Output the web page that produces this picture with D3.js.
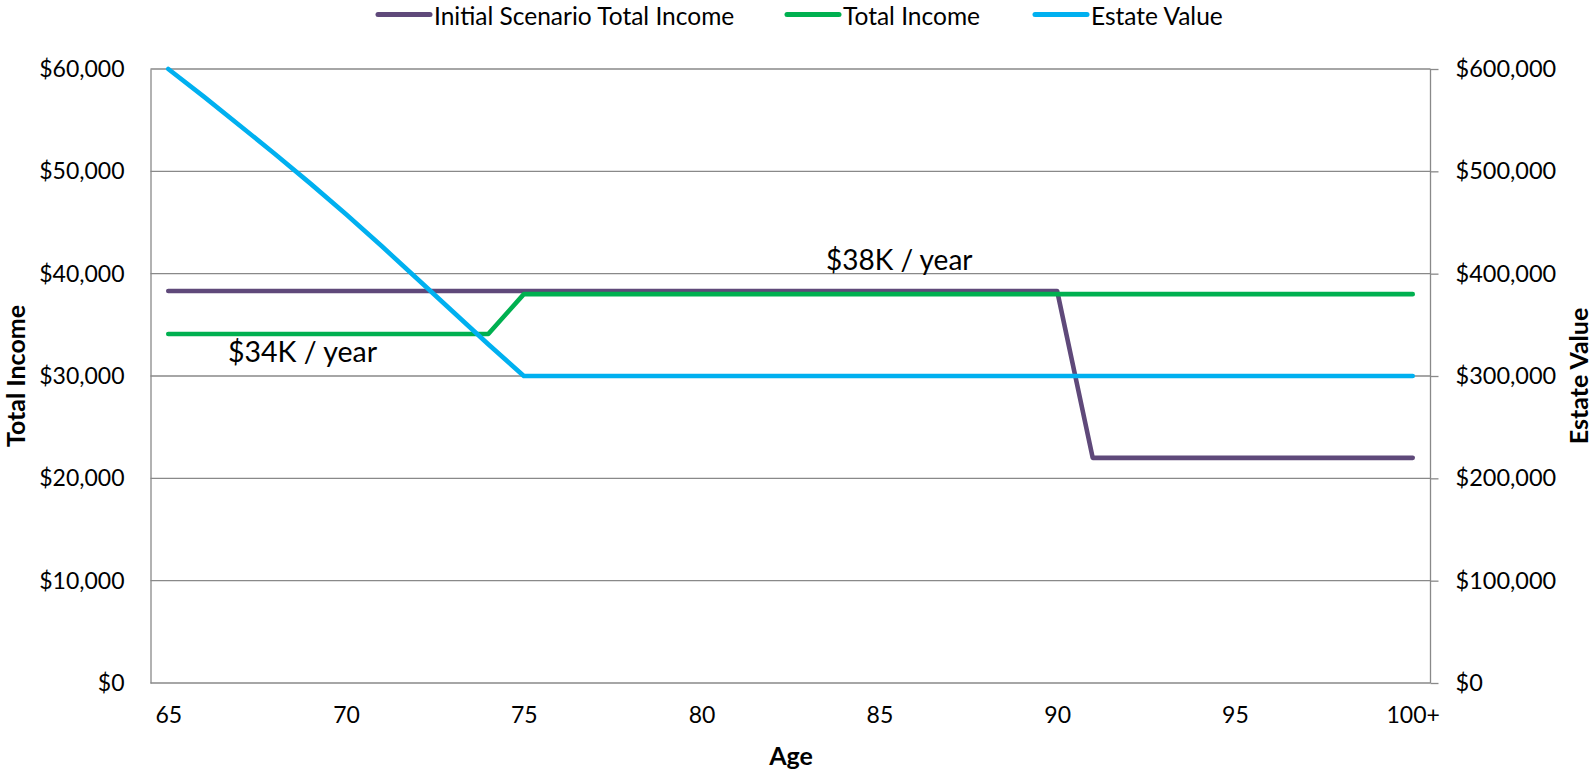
<!DOCTYPE html>
<html>
<head>
<meta charset="utf-8">
<script src="https://cdn.jsdelivr.net/npm/d3@7"></script>
<style>
  html, body { margin: 0; padding: 0; background: #ffffff; }
  svg { display: block; font-family: Lato, "Open Sans", sans-serif; }
</style>
</head>
<body>
<svg id="chart" width="1593" height="773"></svg>
<script>
// ---- data ----
const ages = [65,66,67,68,69,70,71,72,73,74,75,76,77,78,79,80,81,82,83,84,85,86,87,88,89,90,91,92,93,94,95,96,97,98,99,100];
const tickAges = [65,70,75,80,85,90,95,100];
const tickLabels = ["65","70","75","80","85","90","95","100+"];
const initialScenarioIncome = [38300,38300,38300,38300,38300,38300,38300,38300,38300,38300,38300,38300,38300,38300,38300,38300,38300,38300,38300,38300,38300,38300,38300,38300,38300,38300,22000,22000,22000,22000,22000,22000,22000,22000,22000,22000];
const totalIncome = [34100,34100,34100,34100,34100,34100,34100,34100,34100,34100,38000,38000,38000,38000,38000,38000,38000,38000,38000,38000,38000,38000,38000,38000,38000,38000,38000,38000,38000,38000,38000,38000,38000,38000,38000,38000];
const estateValue = [600000,573000,545000,517000,488000,458000,427000,395000,363000,331000,300000,300000,300000,300000,300000,300000,300000,300000,300000,300000,300000,300000,300000,300000,300000,300000,300000,300000,300000,300000,300000,300000,300000,300000,300000,300000];
const seriesNames = ["Initial Scenario Total Income","Total Income","Estate Value"];
const seriesColors = ["#5F497A","#00B050","#00B0F0"];
const leftTicks = [0,10000,20000,30000,40000,50000,60000];
const rightTicks = [0,100000,200000,300000,400000,500000,600000];
const annotations = ["$38K / year", "$34K / year"];

// ---- layout ----
const svg = d3.select("#chart");
const L = 150.5, R = 1430.5, T = 69, B = 683;
const gridColor = "#898989";

const x = d3.scalePoint().domain(ages).range([L, R]).padding(0.5);
const yL = d3.scaleLinear().domain([0, 60000]).range([B, T]);
const yR = d3.scaleLinear().domain([0, 600000]).range([B, T]);
const money = d3.format("$,");

// gridlines
svg.append("g").selectAll("line").data(leftTicks.filter(d => d > 0)).join("line")
  .attr("x1", L).attr("x2", R)
  .attr("y1", d => yL(d)).attr("y2", d => yL(d))
  .attr("stroke", gridColor).attr("stroke-width", 1.3);

// left axis (labels only)
const gl = svg.append("g").attr("transform", `translate(${L},0)`)
  .call(d3.axisLeft(yL).tickValues(leftTicks).tickFormat(money).tickSize(0).tickPadding(26));
gl.select(".domain").attr("stroke", gridColor).attr("stroke-width", 1.3);
gl.selectAll("text").attr("font-size", 23).attr("fill", "#000").attr("font-family", "Lato");

// right axis with outside ticks
const gr = svg.append("g").attr("transform", `translate(${R},0)`)
  .call(d3.axisRight(yR).tickValues(rightTicks).tickFormat(money).tickSize(8).tickPadding(17));
gr.select(".domain").attr("stroke", gridColor).attr("stroke-width", 1.3).attr("d", `M0,${T}V${B}`);
gr.selectAll(".tick line").attr("stroke", gridColor).attr("stroke-width", 1.3);
gr.selectAll("text").attr("font-size", 23.5).attr("fill", "#000").attr("font-family", "Lato");

// bottom axis
const gb = svg.append("g").attr("transform", `translate(0,${B})`)
  .call(d3.axisBottom(x).tickValues(tickAges)
    .tickFormat(d => tickLabels[tickAges.indexOf(d)]).tickSize(0).tickPadding(24));
gb.select(".domain").attr("stroke", gridColor).attr("stroke-width", 1.3).attr("d", `M${L},0H${R}`);
gb.selectAll("text").attr("font-size", 23).attr("fill", "#000").attr("font-family", "Lato");

// lines
const seriesData = [initialScenarioIncome, totalIncome, estateValue];
const scales = [yL, yL, yR];
seriesData.forEach((vals, i) => {
  const line = d3.line().x((d, j) => x(ages[j])).y(d => scales[i](d));
  svg.append("path").datum(vals)
    .attr("d", line)
    .attr("fill", "none")
    .attr("stroke", seriesColors[i])
    .attr("stroke-width", 4.6)
    .attr("stroke-linecap", "round")
    .attr("stroke-linejoin", "round");
});

// annotations
svg.append("text").attr("x", 826).attr("y", 270).attr("font-size", 28).attr("fill", "#000")
  .text(annotations[0]);
svg.append("text").attr("x", 228).attr("y", 362).attr("font-size", 28.5).attr("fill", "#000")
  .text(annotations[1]);

// axis titles
svg.append("text").attr("x", 791).attr("y", 765).attr("text-anchor", "middle")
  .attr("font-size", 25).attr("font-weight", "bold").text("Age");
svg.append("text").attr("transform", `translate(25,376) rotate(-90)`).attr("text-anchor", "middle")
  .attr("font-size", 25).attr("font-weight", "bold").text("Total Income");
svg.append("text").attr("transform", `translate(1588,376) rotate(-90)`).attr("text-anchor", "middle")
  .attr("font-size", 25).attr("font-weight", "bold").text("Estate Value");

// legend
const legendX = [376, 785, 1033];
const lg = svg.append("g");
seriesNames.forEach((name, i) => {
  lg.append("line").attr("x1", legendX[i] + 2).attr("x2", legendX[i] + 54)
    .attr("y1", 14.5).attr("y2", 14.5)
    .attr("stroke", seriesColors[i]).attr("stroke-width", 5).attr("stroke-linecap", "round");
  lg.append("text").attr("x", legendX[i] + 58).attr("y", 24.5)
    .attr("font-size", 24.5).attr("fill", "#000").text(name);
});
</script>
</body>
</html>
